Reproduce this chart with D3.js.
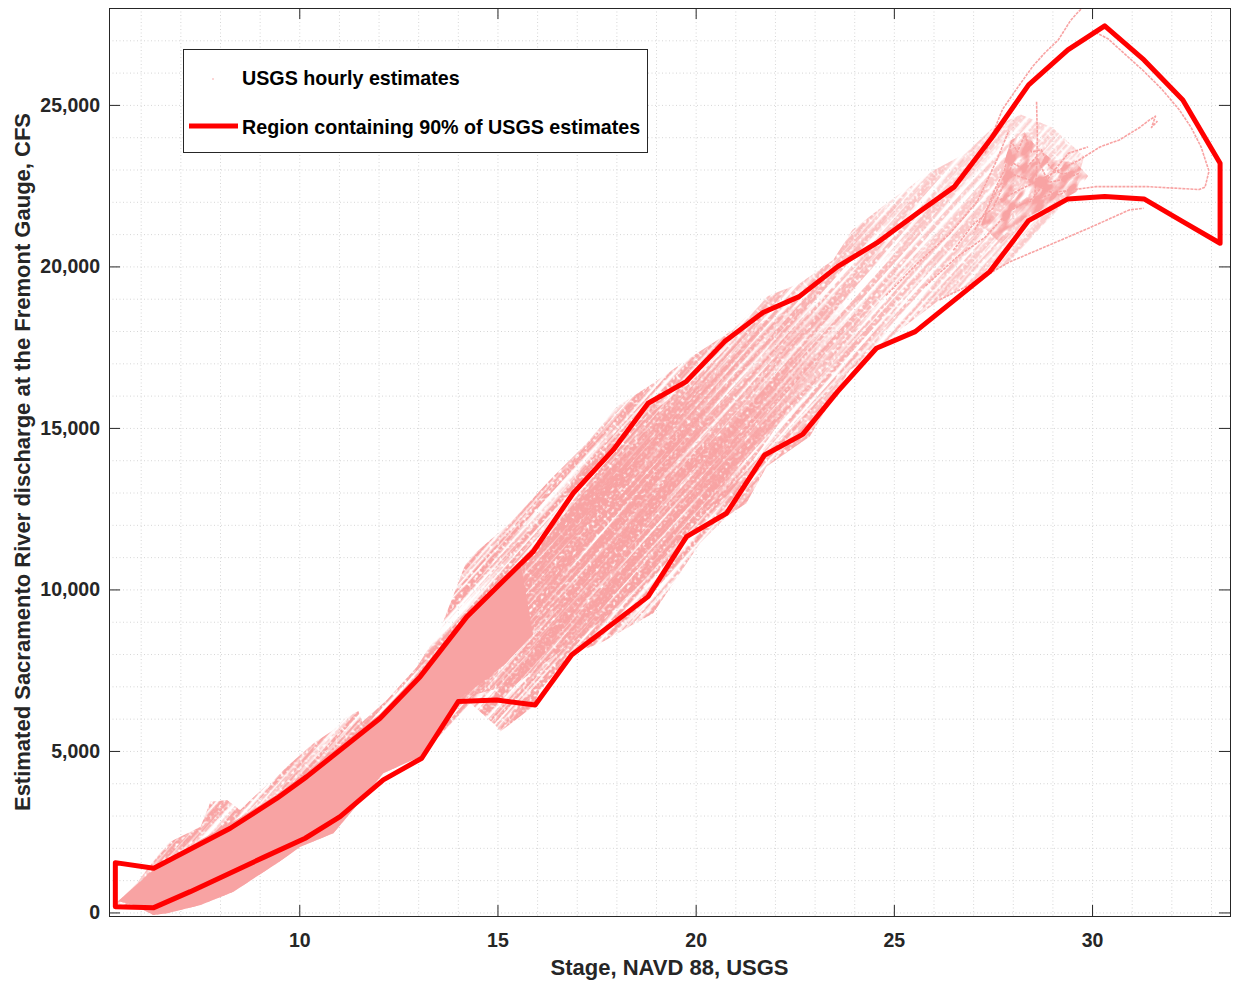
<!DOCTYPE html>
<html>
<head>
<meta charset="utf-8">
<script src="https://cdn.jsdelivr.net/npm/d3@7"></script>
<style>
  html, body { margin: 0; padding: 0; background: #fff; }
  svg { display: block; font-family: "Liberation Sans", Arial, Helvetica, sans-serif; }
</style>
</head>
<body>
<svg id="chart" width="1233" height="983"></svg>
<script>
// ---- axis ticks ----
const stageTicks = [10, 15, 20, 25, 30];
const flowTicks = [0, 5000, 10000, 15000, 20000, 25000];

// ---- 90% region polygon: [stage, discharge] ----
const regionUpper = [
  [5.36, 1542], [6.33, 1368], [8.26, 2607], [9.44, 3536], [10.19, 4205],
  [12.04, 6012], [13.05, 7300], [14.23, 9158], [15.90, 11170], [16.91, 12978],
  [17.92, 14319], [18.80, 15765], [19.76, 16434], [20.73, 17672], [21.70, 18575],
  [22.61, 19065], [23.58, 19994], [24.56, 20718], [25.59, 21647], [26.53, 22471],
  [27.46, 23969], [28.40, 25619], [29.39, 26703], [30.32, 27446], [31.31, 26393],
  [32.29, 25155], [33.23, 23195]
];
const regionLower = [
  [33.23, 20718], [32.29, 21387], [31.31, 22090], [30.32, 22161], [29.39, 22090],
  [28.40, 21418], [27.42, 19839], [26.48, 18910], [25.54, 17981], [24.56, 17467],
  [23.58, 16124], [22.70, 14800], [21.74, 14164], [20.78, 12359], [19.77, 11635],
  [18.80, 9777], [16.87, 7972], [15.95, 6424], [14.98, 6579], [14.01, 6527],
  [13.09, 4774], [12.12, 4102], [11.03, 2966], [10.15, 2297], [9.14, 1728],
  [7.25, 644], [6.33, 149], [5.36, 180]
];

// ---- outline of the whole hourly-estimate cloud ----
const cloudUpper = [
  [5.41, 300], [5.9, 900], [6.3, 1560], [6.67, 2142], [7.51, 2656], [7.76, 3430],
  [8.18, 3483], [8.51, 3173], [8.77, 3483], [9.69, 4514], [10.36, 5238],
  [10.86, 5650], [11.16, 6022], [11.49, 6238], [11.59, 5898], [12.21, 6579],
  [12.97, 7610], [13.55, 8746], [14.23, 10913], [15.32, 12059], [16.24, 13288],
  [17.25, 14526], [18.01, 15659], [18.93, 16384], [19.77, 17105], [20.94, 18034],
  [21.79, 19065], [22.63, 19480], [23.47, 20201], [23.95, 21130], [24.93, 22059],
  [25.87, 22885], [26.81, 23505], [27.5, 24300], [28.2, 24700], [29.0, 24300],
  [29.8, 23400]
];
const cloudLower = [
  [29.6, 22500], [29.18, 21749], [27.92, 20139], [26.91, 19427], [26.15, 18963],
  [25.15, 18034], [24.29, 17105], [23.89, 16796], [22.88, 14731], [21.79, 13802],
  [21.28, 12669], [20.78, 12254], [20.11, 11430], [18.93, 9263], [17.59, 8334],
  [16.91, 8025], [16.07, 6889], [15.90, 6372], [15.07, 5598], [14.94, 5805],
  [14.31, 6486], [13.05, 4823], [12.12, 4310], [11.71, 3690], [10.86, 2452],
  [10.03, 2037], [9.44, 1523], [8.34, 644], [7.51, 232], [6.67, -25],
  [6.32, -77], [5.82, 232], [5.45, 200]
];

// ---- densest part of the cloud ----
const coreUpper = [
  [5.41, 331], [6.32, 1316], [7.51, 2250], [8.26, 2750], [9.44, 3650],
  [10.19, 4350], [12.04, 6150], [13.05, 7450], [14.0, 8900], [14.8, 9900],
  [15.6, 10700]
];
const coreLower = [
  [15.9, 8600], [15.2, 7700], [14.6, 7100], [14.1, 6700], [13.6, 5800],
  [13.05, 4823], [12.12, 4310], [11.71, 3690], [10.86, 2452], [10.03, 2037],
  [9.44, 1523], [8.34, 644], [7.51, 232], [6.67, -25], [6.32, -77],
  [5.82, 232], [5.49, 330]
];

// ---- busy middle stretch of the cloud ----
const bandUpper = [
  [13.05, 7300], [14.23, 9100], [15.9, 11000], [16.91, 12700], [17.92, 14100],
  [18.8, 15400], [19.76, 16300], [20.73, 17400], [21.7, 18300], [22.6, 18800],
  [23.6, 19600]
];
const bandLower = [
  [23.8, 18400], [22.8, 16400], [21.8, 14600], [20.8, 12900], [19.8, 12000],
  [18.8, 10400], [17.6, 9000], [16.5, 8000], [15.5, 7100], [14.3, 6700], [13.6, 5800]
];

// ---- knot of events near peak stage ----
const knotOutline = [
  [27.2, 21300], [27.6, 22500], [27.95, 23900], [28.3, 24150], [28.6, 23700],
  [29.0, 23300], [29.6, 23200], [29.9, 22800], [29.6, 22300], [29.0, 21900],
  [28.3, 21500], [27.7, 20700]
];

// ---- individual high-stage event tracks ----
const trackPeak = [
  [27.3, 23500], [27.74, 24861], [28.1, 25500], [28.5, 26186], [28.8, 26600],
  [29.15, 27013], [29.45, 27600], [29.62, 27838], [29.75, 28000]
];
const trackFalling = [
  [30.0, 27300], [30.4, 27050], [30.85, 26550], [31.3, 26050], [31.75, 25500],
  [32.2, 24850], [32.5, 24300], [32.75, 23700], [32.95, 22950], [32.85, 22450],
  [32.7, 22380], [31.4, 22470], [30.1, 22470], [29.15, 22310], [28.17, 21900]
];
const trackBranch = [
  [27.67, 22059], [28.67, 22678], [29.68, 23297], [30.2, 23700], [30.69, 23916],
  [31.2, 24300], [31.45, 24535], [31.6, 24650], [31.5, 24300], [31.65, 24500]
];
const trackLow = [
  [26.15, 18963], [26.91, 19427], [27.92, 20139], [28.93, 20666], [29.93, 21192],
  [30.94, 21749], [31.3, 21800]
];
const trackRiseA = [
  [27.29, 21594], [27.54, 22368], [27.79, 22987], [27.97, 23854], [28.12, 23545],
  [28.30, 24071], [28.47, 23545], [28.72, 23607], [28.93, 23081], [29.23, 22864],
  [29.56, 22926]
];
const trackRiseB = [
  [27.04, 21130], [27.41, 21904], [27.67, 22523], [28.04, 22833], [28.42, 22678],
  [28.80, 22368], [29.18, 22213], [29.48, 22430]
];
const trackRiseC = [
  [26.5, 20500], [27.0, 21300], [27.5, 21800], [27.8, 22600], [28.0, 23200],
  [28.3, 23000], [28.6, 23400], [28.9, 22600], [29.3, 22700], [29.7, 22900]
];
const trackRiseD = [
  [25.8, 19400], [26.6, 20300], [27.3, 20900], [27.9, 21700], [28.5, 22100],
  [29.0, 22900], [29.4, 23500], [29.9, 23700]
];
const trackRiseE = [
  [24.8, 19100], [25.6, 20100], [26.4, 21000], [27.1, 22000], [27.6, 23300],
  [27.9, 24200]
];
const trackSteep = [
  [28.6, 25100], [28.62, 24000], [28.6, 22900], [28.55, 22100]
];
const tracks = [trackPeak, trackFalling, trackBranch, trackLow, trackRiseA,
  trackRiseB, trackRiseC, trackRiseD, trackRiseE, trackSteep];

// ---- layout ----
const plot = { left: 109, right: 1230, top: 8, bottom: 916 };
const ink = "#262626";
const pink = "#F8A3A3";

const x = d3.scaleLinear().domain([5.2, 33.48]).range([plot.left, plot.right]);
const y = d3.scaleLinear().domain([-110, 28000]).range([plot.bottom, plot.top]);

const svg = d3.select("#chart");
const defs = svg.append("defs");

defs.append("clipPath").attr("id", "plotClip")
  .append("rect")
  .attr("x", plot.left).attr("y", plot.top)
  .attr("width", plot.right - plot.left).attr("height", plot.bottom - plot.top);

// streaky, speckled textures running along the rating trend
function streakMask(id, freq, seed, gain, bias, speckle) {
  const f = defs.append("filter").attr("id", id + "Noise")
    .attr("x", 0).attr("y", 0).attr("width", 1).attr("height", 1)
    .attr("color-interpolation-filters", "sRGB");
  f.append("feTurbulence").attr("type", "fractalNoise")
    .attr("baseFrequency", freq).attr("numOctaves", 2).attr("seed", seed)
    .attr("result", "streak");
  f.append("feColorMatrix").attr("in", "streak").attr("type", "matrix")
    .attr("values", `${gain} 0 0 0 ${bias}  ${gain} 0 0 0 ${bias}  ${gain} 0 0 0 ${bias}  0 0 0 0 1`)
    .attr("result", "streakGray");
  if (speckle) {
    f.append("feTurbulence").attr("type", "fractalNoise")
      .attr("baseFrequency", "0.35").attr("numOctaves", 1).attr("seed", seed + 5)
      .attr("result", "fine");
    f.append("feColorMatrix").attr("in", "fine").attr("type", "matrix")
      .attr("values", `5 0 0 0 -1.4  5 0 0 0 -1.4  5 0 0 0 -1.4  0 0 0 0 1`)
      .attr("result", "fineGray");
    f.append("feComposite").attr("in", "streakGray").attr("in2", "fineGray")
      .attr("operator", "arithmetic").attr("k1", 1).attr("k2", 0).attr("k3", 0).attr("k4", 0);
  }
  const cx = (plot.left + plot.right) / 2, cy = (plot.top + plot.bottom) / 2;
  defs.append("mask").attr("id", id)
    .attr("maskUnits", "userSpaceOnUse")
    .attr("x", 0).attr("y", 0).attr("width", 1233).attr("height", 983)
    .append("rect")
    .attr("x", cx - 800).attr("y", cy - 800).attr("width", 1600).attr("height", 1600)
    .attr("transform", `rotate(-48 ${cx} ${cy})`)
    .attr("fill", "#fff")
    .attr("filter", `url(#${id}Noise)`);
}
streakMask("streakA", "0.006 0.28", 7, 5, -1.8, true);
streakMask("streakB", "0.008 0.35", 21, 5, -1.5, true);
streakMask("streakC", "0.06 0.14", 4, 4, -1.5, false);

function trendGradient(id, stops, from, to) {
  const g = defs.append("linearGradient").attr("id", id)
    .attr("gradientUnits", "userSpaceOnUse")
    .attr("x1", x(from[0])).attr("y1", y(from[1]))
    .attr("x2", x(to[0])).attr("y2", y(to[1]));
  stops.forEach(([o, a]) =>
    g.append("stop").attr("offset", o).attr("stop-color", pink).attr("stop-opacity", a));
}
trendGradient("cloudFade", [[0, 1], [0.5, 1], [0.7, 0.85], [0.85, 0.6], [1, 0.45]], [9, 0], [30, 25000]);
trendGradient("bandFade", [[0, 1], [0.6, 1], [0.85, 0.5], [1, 0]], [14, 6500], [24, 19000]);

// ---- grid ----
const grid = svg.append("g").attr("stroke", "#d6d6d6").attr("stroke-width", 1)
  .attr("stroke-dasharray", "1,2.5");
grid.selectAll("line.gx").data(d3.range(6, 34, 1)).join("line")
  .attr("x1", d => x(d) + 0.5).attr("x2", d => x(d) + 0.5)
  .attr("y1", plot.top).attr("y2", plot.bottom);
grid.selectAll("line.gy").data(d3.range(0, 28001, 1000)).join("line")
  .attr("y1", d => y(d) + 0.5).attr("y2", d => y(d) + 0.5)
  .attr("x1", plot.left).attr("x2", plot.right);

// ---- hourly estimates cloud ----
const area = svg.append("g").attr("clip-path", "url(#plotClip)");
const poly = d3.line().x(d => x(d[0])).y(d => y(d[1]));
const closed = pts => poly(pts) + "Z";

area.append("path")
  .attr("d", closed(cloudUpper.concat(cloudLower)))
  .attr("fill", "url(#cloudFade)")
  .attr("mask", "url(#streakA)");

area.append("path")
  .attr("d", closed(bandUpper.concat(bandLower)))
  .attr("fill", "url(#bandFade)")
  .attr("mask", "url(#streakB)");

area.append("path")
  .attr("d", closed(coreUpper.concat(coreLower)))
  .attr("fill", pink);

area.append("path")
  .attr("d", closed(knotOutline))
  .attr("fill", pink)
  .attr("mask", "url(#streakC)");

area.selectAll("path.track").data(tracks).join("path")
  .attr("class", "track")
  .attr("d", d => poly(d))
  .attr("fill", "none")
  .attr("stroke", pink)
  .attr("stroke-width", 1.6)
  .attr("stroke-linejoin", "round")
  .attr("stroke-dasharray", "3,1");

// ---- 90% region ----
area.append("path")
  .attr("d", closed(regionUpper.concat(regionLower)))
  .attr("fill", "none")
  .attr("stroke", "#FF0000")
  .attr("stroke-width", 5)
  .attr("stroke-linejoin", "round");

// ---- axes ----
const fmt = d3.format(",");
function styleAxis(g) {
  g.select(".domain").remove();
  g.selectAll(".tick line").attr("stroke", ink);
  g.selectAll(".tick text").attr("fill", ink)
    .attr("font-size", 19.5).attr("font-weight", "bold")
    .attr("font-family", '"Liberation Sans", Arial, sans-serif');
}
svg.append("g").attr("transform", `translate(0,${plot.bottom})`)
  .call(d3.axisBottom(x).tickValues(stageTicks).tickSize(-11).tickPadding(17).tickFormat(d3.format("d")))
  .call(styleAxis);
svg.append("g").attr("transform", `translate(0,${plot.top})`)
  .call(d3.axisTop(x).tickValues(stageTicks).tickSize(-11).tickFormat(""))
  .call(styleAxis);
svg.append("g").attr("transform", `translate(${plot.left},0)`)
  .call(d3.axisLeft(y).tickValues(flowTicks).tickSize(-11).tickPadding(9).tickFormat(fmt))
  .call(styleAxis);
svg.append("g").attr("transform", `translate(${plot.right},0)`)
  .call(d3.axisRight(y).tickValues(flowTicks).tickSize(-11).tickFormat(""))
  .call(styleAxis);

svg.append("rect")
  .attr("x", plot.left + 0.5).attr("y", plot.top + 0.5)
  .attr("width", plot.right - plot.left).attr("height", plot.bottom - plot.top)
  .attr("fill", "none").attr("stroke", ink).attr("stroke-width", 1);

// ---- axis titles ----
svg.append("text")
  .attr("x", (plot.left + plot.right) / 2).attr("y", 975)
  .attr("text-anchor", "middle").attr("font-size", 22).attr("font-weight", "bold")
  .attr("fill", ink)
  .text("Stage, NAVD 88, USGS");
svg.append("text")
  .attr("transform", `translate(30,${(plot.top + plot.bottom) / 2}) rotate(-90)`)
  .attr("text-anchor", "middle").attr("font-size", 22).attr("font-weight", "bold")
  .attr("fill", ink)
  .text("Estimated Sacramento River discharge at the Fremont Gauge, CFS");

// ---- legend ----
const lg = svg.append("g");
lg.append("rect").attr("x", 183.5).attr("y", 49.5).attr("width", 464).attr("height", 103)
  .attr("fill", "#fff").attr("stroke", ink).attr("stroke-width", 1);
lg.append("circle").attr("cx", 213).attr("cy", 79).attr("r", 0.8).attr("fill", pink);
lg.append("line").attr("x1", 189).attr("x2", 238).attr("y1", 126).attr("y2", 126)
  .attr("stroke", "#FF0000").attr("stroke-width", 5);
lg.append("text").attr("x", 242).attr("y", 85)
  .attr("font-size", 19.7).attr("font-weight", "bold").attr("fill", "#000")
  .text("USGS hourly estimates");
lg.append("text").attr("x", 242).attr("y", 134)
  .attr("font-size", 19.7).attr("font-weight", "bold").attr("fill", "#000")
  .text("Region containing 90% of USGS estimates");
</script>
</body>
</html>
